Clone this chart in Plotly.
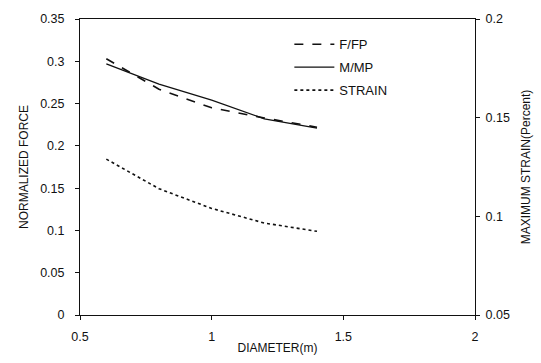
import plotly.graph_objects as go

# Pile diameter (m)
diameter = [0.6, 0.8, 1.0, 1.2, 1.4]
# Normalized forces (left axis)
f_fp = [0.303, 0.267, 0.245, 0.233, 0.222]
m_mp = [0.297, 0.273, 0.254, 0.232, 0.221]
# Maximum strain in percent (right axis)
strain = [0.129, 0.114, 0.104, 0.0966, 0.0924]

x_ticks = [0.5, 1, 1.5, 2]
y_ticks = [0, 0.05, 0.1, 0.15, 0.2, 0.25, 0.3, 0.35]
y2_ticks = [0.05, 0.1, 0.15, 0.2]

FONT = "Liberation Sans, Arial, sans-serif"
INK = "#111111"

fig = go.Figure()
fig.add_trace(go.Scatter(x=diameter, y=f_fp, name="F/FP", mode="lines", legendgroup="f",
                         line=dict(color=INK, width=1.6, dash="dash")))
fig.add_trace(go.Scatter(x=diameter, y=m_mp, name="M/MP", mode="lines", legendgroup="m",
                         line=dict(color=INK, width=1.3)))
fig.add_trace(go.Scatter(x=diameter, y=strain, name="STRAIN", mode="lines", legendgroup="s",
                         yaxis="y2", line=dict(color=INK, width=1.6, dash="dot")))

axis_common = dict(showgrid=False, zeroline=False, showline=True, linecolor=INK,
                   linewidth=1, ticks="outside", ticklen=4, tickcolor=INK,
                   tickfont=dict(family=FONT, size=12.5, color=INK))
title_font = dict(family=FONT, size=12, color=INK)

fig.update_layout(
    width=541, height=363,
    margin=dict(l=80, r=66, t=19, b=48),
    paper_bgcolor="white", plot_bgcolor="white",
    font=dict(family=FONT, size=12, color=INK),
    xaxis=dict(range=[0.5, 2], tickvals=x_ticks, ticktext=[str(v) for v in x_ticks],
               mirror=True, ticklabelstandoff=6,
               title=dict(text="DIAMETER(m)", standoff=0, font=title_font),
               **axis_common),
    yaxis=dict(range=[0, 0.35], tickvals=y_ticks, ticktext=[f"{v:g}" for v in y_ticks],
               ticklabelstandoff=8,
               title=dict(text="NORMALIZED FORCE", standoff=8, font=title_font),
               **axis_common),
    yaxis2=dict(range=[0.05, 0.2], tickvals=y2_ticks, ticktext=[f"{v:g}" for v in y2_ticks],
                overlaying="y", side="right", ticklabelstandoff=3,
                title=dict(text="MAXIMUM STRAIN(Percent)", standoff=12, font=title_font),
                **axis_common),
    showlegend=True,
    legend=dict(x=0.53, y=0.965, xanchor="left", yanchor="top",
                bgcolor="rgba(0,0,0,0)", borderwidth=0,
                font=dict(family=FONT, size=13, color=INK),
                tracegroupgap=3, itemwidth=40),
)

fig.write_html("out.html")
